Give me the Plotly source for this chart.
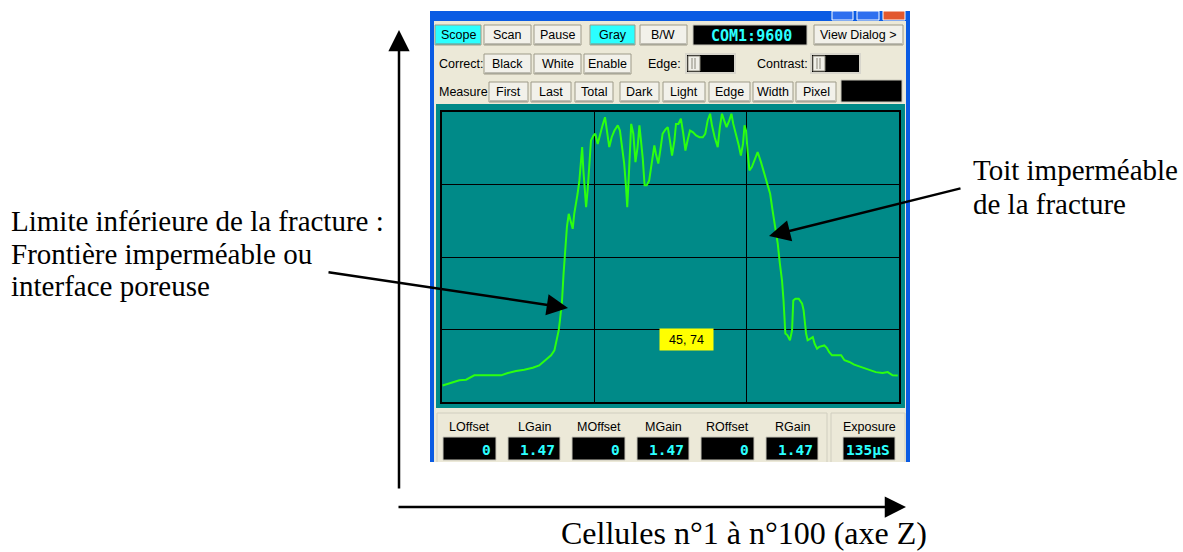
import plotly.graph_objects as go

W, H = 1183, 552

# scope trace
# x: 0-150 across the three grid columns, y: 0-100 across the four grid rows
scope_x = [0.2, 2.4, 5.7, 7.9, 10.6, 13.3, 19.4, 21.6, 24.3, 27.0, 29.8, 31.9, 34.1, 35.8, 36.9,
           37.6, 38.3, 38.7, 39.4, 39.9, 40.5, 41.0, 41.6, 42.2, 42.9, 43.4, 44.0, 44.5, 45.1,
           45.6, 46.0, 46.4, 46.8, 47.3, 47.8, 48.4, 48.9, 49.7, 50.3, 51.1, 51.9, 52.7, 53.5,
           54.2, 54.9, 55.7, 56.6, 57.7, 58.4, 59.1, 59.8, 60.4, 60.8, 61.3, 61.7, 62.1, 62.8,
           63.5, 64.2, 64.8, 65.3, 65.9, 66.5, 67.2, 68.0, 68.9, 69.7, 70.2, 71.0, 71.8, 72.4,
           73.3, 74.1, 74.8, 75.5, 76.3, 76.8, 77.6, 78.4, 79.2, 79.9, 80.6, 81.4, 82.3, 83.4,
           84.5, 85.6, 86.4, 87.2, 88.0, 88.6, 89.5, 90.5, 91.2, 91.9, 92.6, 93.4, 94.3, 95.0,
           95.6, 96.5, 97.4, 98.1, 98.8, 99.3, 99.8, 100.3, 100.9, 101.7, 102.5, 103.6, 104.7,
           105.8, 106.9, 107.7, 108.5, 109.4, 110.2, 110.9, 111.6, 112.1, 112.7, 113.4, 114.2,
           114.9, 115.3, 116.0, 117.1, 118.2, 118.7, 119.5, 120.0, 120.8, 121.7, 122.3, 123.1,
           123.8, 124.7, 125.5, 126.3, 127.1, 128.0, 129.3, 131.0, 132.1, 133.7, 135.3, 137.0,
           138.6, 140.3, 142.4, 144.6, 146.3, 147.9, 149.6]
scope_y = [5.7, 6.5, 7.5, 7.7, 9.2, 9.2, 9.2, 10.0, 10.7, 11.1, 11.8, 12.6, 14.4, 16.1, 17.8,
           21.3, 24.7, 28.1, 35.0, 44.2, 52.3, 60.3, 64.9, 62.0, 59.7, 64.9, 68.4, 71.8, 76.4,
           83.9, 87.9, 79.9, 73.0, 67.2, 73.0, 82.2, 90.2, 91.9, 92.5, 89.0, 92.5, 95.4, 98.2,
           93.6, 87.9, 91.3, 93.6, 95.4, 93.6, 87.9, 82.2, 74.1, 67.2, 77.6, 87.9, 95.9, 92.5,
           82.7, 87.9, 95.4, 90.2, 83.9, 74.7, 74.7, 76.4, 82.2, 88.5, 85.6, 82.2, 87.9, 92.5,
           93.9, 94.8, 90.2, 85.0, 90.2, 95.9, 95.9, 97.7, 92.5, 86.7, 90.2, 93.6, 93.1, 91.9,
           91.3, 91.3, 92.5, 97.1, 99.4, 95.4, 91.3, 87.9, 94.8, 99.4, 97.1, 94.8, 97.1, 99.4,
           95.9, 92.5, 88.5, 85.0, 89.0, 95.4, 93.6, 86.7, 79.9, 81.0, 83.3, 86.2, 82.7,
           78.7, 75.3, 71.8, 66.1, 60.3, 54.6, 47.7, 41.9, 35.0, 23.6, 23.0, 21.3,
           24.7, 35.0, 35.6, 35.6, 33.9, 31.6, 23.6, 21.3, 21.8, 22.4, 20.1, 18.4,
           19.0, 19.2, 19.5, 18.7, 17.2, 16.1, 16.1, 16.1, 14.4, 13.8, 12.9, 12.3,
           11.5, 11.1, 10.3, 10.0, 10.3, 9.2, 9.1]

cursor_text = "45, 74"
port_text = "COM1:9600"
row1_buttons = ["Scope", "Scan", "Pause", "Gray", "B/W", "View Dialog >"]
row2_buttons = ["Black", "White", "Enable"]
row3_buttons = ["First", "Last", "Total", "Dark", "Light", "Edge", "Width", "Pixel"]
gain_labels = ["LOffset", "LGain", "MOffset", "MGain", "ROffset", "RGain"]
gain_values = ["0", "1.47", "0", "1.47", "0", "1.47"]
exposure_text = "135µS"

left_note = ["Limite inférieure de la fracture :", "Frontière imperméable ou", "interface poreuse"]
right_note = ["Toit imperméable", "de la fracture"]
axis_note = "Cellules n°1 à n°100 (axe Z)"

UI_FONT = "Liberation Sans"
MONO = "DejaVu Sans Mono"
SERIF = "Liberation Serif"
TEAL = "#008A88"
WIN = "#ECE9D8"
CYAN = "#2BFFFF"


def px(x):
    return x / W


def py(y):
    return 1 - y / H


shapes = []
annotations = []


def rect(x0, y0, x1, y1, fill, line=None, lw=1):
    shapes.append(dict(type="rect", xref="paper", yref="paper",
                       x0=px(x0), x1=px(x1), y0=py(y1), y1=py(y0),
                       fillcolor=fill, layer="below",
                       line=dict(color=line or fill, width=lw if line else 0)))


def hline(x0, x1, y, color, lw=1):
    shapes.append(dict(type="line", xref="paper", yref="paper", x0=px(x0), x1=px(x1),
                       y0=py(y), y1=py(y), line=dict(color=color, width=lw), layer="below"))


def vline(x, y0, y1, color, lw=1):
    shapes.append(dict(type="line", xref="paper", yref="paper", x0=px(x), x1=px(x),
                       y0=py(y0), y1=py(y1), line=dict(color=color, width=lw), layer="below"))


def label(x, y, text, size=12.5, color="black", family=UI_FONT, xanchor="center", **kw):
    annotations.append(dict(xref="paper", yref="paper", x=px(x), y=py(y), text=text,
                            showarrow=False, xanchor=xanchor, yanchor="middle",
                            font=dict(size=size, color=color, family=family), **kw))


def button(x0, x1, y0, y1, text, on=False):
    rect(x0, y0, x1, y1, CYAN if on else "#F2F1EA", "#9D9A88")
    hline(x0 + 1, x1 - 1, y1 - 1, "#8A877A", 1)
    label((x0 + x1) / 2, (y0 + y1) / 2, text)


def display(x0, x1, y0, y1, text, size=14.5):
    rect(x0, y0, x1, y1, "black", "#C8C6BA")
    if text:
        label(x1 - 3, (y0 + y1) / 2 + 1, "<b>" + text + "</b>", size=size, color=CYAN,
              family=MONO, xanchor="right")


def slider(x0, x1, y0, y1):
    rect(x0, y0, x1, y1, "black", "#D8D6CC", 2)
    rect(x0 + 2, y0 + 2, x0 + 14, y1 - 2, "#F0EFE8", "#8A877A")
    vline(x0 + 6, y0 + 4, y1 - 4, "#8A877A")
    vline(x0 + 9, y0 + 4, y1 - 4, "#8A877A")


def group_box(x0, x1, y0, y1):
    hline(x0, x1, y0, "#D0CEBF")
    vline(x0, y0, y1, "#D0CEBF")
    vline(x1, y0, y1, "#D0CEBF")


def arrow(x_tail, y_tail, x_tip, y_tip, width=2.5, size=1.7):
    annotations.append(dict(xref="paper", yref="paper", x=px(x_tip), y=py(y_tip),
                            ax=x_tail - x_tip, ay=y_tail - y_tip, axref="pixel", ayref="pixel",
                            text="", showarrow=True, arrowhead=2, arrowsize=size,
                            arrowwidth=width, arrowcolor="black", standoff=0))


# window frame
rect(430, 11, 910, 462, "#0A5BE3")
rect(434, 21, 906, 462, WIN)
rect(832, 11, 853, 20, "#2F6FEF", "white")
rect(857, 11, 879, 20, "#2F6FEF", "white")
rect(883, 11, 905, 20, "#E2582E", "white")

# row 1
row1_x = [(435, 481), (484, 531), (534, 581), (590, 635), (640, 687), (814, 903)]
for (a, b), name in zip(row1_x, row1_buttons):
    button(a, b, 25, 45, name, on=name in ("Scope", "Gray"))
display(693, 807, 25, 45, "")
label(751, 36, "<b>" + port_text + "</b>", size=15, color=CYAN, family=MONO)

# row 2
label(437, 64, "Correct:", xanchor="left")
for (a, b), name in zip([(484, 531), (534, 581), (584, 631)], row2_buttons):
    button(a, b, 54, 74, name)
label(646, 64, "Edge:", xanchor="left")
slider(686, 735, 54, 73)
label(755, 64, "Contrast:", xanchor="left")
slider(811, 860, 54, 73)

# row 3
label(437, 92, "Measure", xanchor="left")
row3_x = [(489, 528), (531, 571), (575, 613), (620, 659), (663, 705), (709, 750), (753, 793), (796, 836)]
for (a, b), name in zip(row3_x, row3_buttons):
    button(a, b, 82, 102, name)
rect(841, 80, 902, 102, "black", "#C8C6BA")

# scope panel
rect(436, 104, 905, 408, TEAL)

# bottom group boxes
group_box(437, 827, 413, 462)
group_box(831, 905, 413, 462)
gain_x = [(443, 496), (508, 560), (572, 625), (637, 689), (701, 754), (766, 818)]
for (a, b), name, val in zip(gain_x, gain_labels, gain_values):
    label((a + b) / 2, 427, name)
    display(a, b, 437, 460, val)
label(869, 427, "Exposure")
display(843, 895, 437, 460, exposure_text)

# cursor readout
label(686.5, 339.5, cursor_text, size=12.5, bgcolor="#FFFF00", width=53, height=21,
      borderpad=0)

# notes
for i, t in enumerate(left_note):
    label(9, 221 + i * 32.5, t, size=29, family=SERIF, xanchor="left")
for i, t in enumerate(right_note):
    label(971, 170 + i * 34, t, size=29, family=SERIF, xanchor="left")
label(744, 533, axis_note, size=32, family=SERIF)

arrow(327, 272, 568, 308)
arrow(962, 188, 769, 236)
arrow(399, 490, 399, 30)
arrow(397, 507, 906, 507)

fig = go.Figure()
fig.add_trace(go.Scatter(x=scope_x, y=scope_y, mode="lines",
                         line=dict(color="#2CFF10", width=2), hoverinfo="skip"))

axis_common = dict(showgrid=True, gridcolor="black", gridwidth=1, zeroline=False,
                   showline=True, mirror=True, linecolor="black", linewidth=1.5,
                   showticklabels=False, ticks="", fixedrange=True)
fig.update_layout(
    width=W, height=H, margin=dict(l=0, r=0, t=0, b=0),
    paper_bgcolor="white", plot_bgcolor="rgba(0,0,0,0)",
    showlegend=False,
    xaxis=dict(domain=[px(442), px(899)], range=[0, 150], dtick=50, **axis_common),
    yaxis=dict(domain=[py(402), py(112)], range=[0, 100], dtick=25, **axis_common),
    shapes=shapes, annotations=annotations,
)

fig.write_html("out.html", config={"displayModeBar": False},
               post_script="document.body.style.margin='0';")
